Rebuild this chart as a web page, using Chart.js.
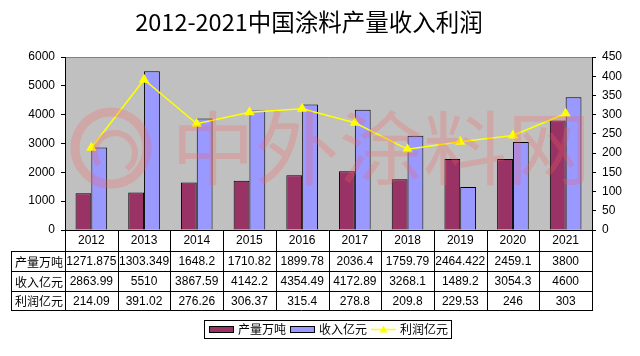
<!DOCTYPE html>
<html><head><meta charset="utf-8">
<script src="https://cdn.jsdelivr.net/npm/chart.js@4.4.1/dist/chart.umd.min.js"></script>
<style>html,body{margin:0;padding:0;background:#fff;} #wrap{width:640px;height:356px;position:relative;}</style>
</head><body><div id="wrap"><canvas id="c" width="640" height="356"></canvas></div>
<script>
// ---- data ----
const chartTitle = '2012-2021中国涂料产量收入利润';
const years = ['2012','2013','2014','2015','2016','2017','2018','2019','2020','2021'];
const seriesNames = ['产量万吨','收入亿元','利润亿元'];
const output = [1271.875,1303.349,1648.2,1710.82,1899.78,2036.4,1759.79,2464.422,2459.1,3800];
const revenue = [2863.99,5510,3867.59,4142.2,4354.49,4172.89,3268.1,1489.2,3054.3,4600];
const profit = [214.09,391.02,276.26,306.37,315.4,278.8,209.8,229.53,246,303];
const leftTicks = [0,1000,2000,3000,4000,5000,6000];
const rightTicks = [0,50,100,150,200,250,300,350,400,450];
const watermarkText = '中外涂料网';

const LATIN = '"Liberation Sans", Arial, sans-serif';
const CJK = '"Noto Sans CJK SC", "Noto Sans", sans-serif';
const colors = ['#993366','#9999ff','#ffff00'];

const decor = {
  id:'decor',
  beforeDraw(chart){
    const {ctx, chartArea:a} = chart;
    ctx.save();
    ctx.fillStyle='#c0c0c0';
    ctx.fillRect(a.left,a.top,a.right-a.left,a.bottom-a.top);
    ctx.strokeStyle='#808080'; ctx.lineWidth=1;
    ctx.beginPath(); ctx.moveTo(a.left, Math.round(a.top)+0.5); ctx.lineTo(a.right, Math.round(a.top)+0.5); ctx.stroke();
    // title
    ctx.fillStyle='#000'; ctx.font='23.5px '+CJK; ctx.textAlign='center'; ctx.textBaseline='middle';
    ctx.fillText(chartTitle, 309, 22);
    ctx.restore();
  },
  afterDatasetsDraw(chart){
    const {ctx, chartArea:a} = chart;
    ctx.save();
    ctx.beginPath(); ctx.rect(a.left,a.top,a.right-a.left,a.bottom-a.top); ctx.clip();
    ctx.strokeStyle='rgba(255,90,90,0.25)'; ctx.fillStyle='rgba(255,90,90,0.25)';
    ctx.lineWidth=9;
    ctx.beginPath(); ctx.arc(a.left+46,a.top+91,36,0,Math.PI*2); ctx.stroke();
    ctx.lineWidth=6;
    ctx.beginPath(); ctx.arc(a.left+50,a.top+96,20,Math.PI*0.8,Math.PI*2.3); ctx.stroke();
    ctx.font='80px '+CJK; ctx.textBaseline='middle'; ctx.textAlign='left';
    const w=ctx.measureText(watermarkText).width;
    const x0=a.left+106, target=420;
    ctx.translate(x0, a.top+91); ctx.scale(target/w, 1);
    ctx.fillText(watermarkText, 0, 0);
    ctx.restore();
  },
  afterDraw(chart){
    const {ctx, chartArea:a} = chart;
    const xs = chart.scales.x;
    const n = years.length;
    const cw = (a.right-a.left)/n;
    const tl = 11;
    const rh = [21,20,20,19];
    const ys=[Math.round(a.bottom)];
    rh.forEach(h=>ys.push(ys[ys.length-1]+h));
    const px = v=>Math.round(v)+0.5;
    ctx.save();
    ctx.strokeStyle='#000'; ctx.lineWidth=1;
    ctx.beginPath();
    ctx.moveTo(a.left, px(ys[0])); ctx.lineTo(a.right, px(ys[0]));
    for(let r=1;r<ys.length;r++){ ctx.moveTo(tl, px(ys[r])); ctx.lineTo(a.right, px(ys[r])); }
    for(let i=0;i<=n;i++){ const x=px(a.left+i*cw); ctx.moveTo(x, ys[0]); ctx.lineTo(x, ys[4]+1); }
    ctx.moveTo(px(tl), ys[1]); ctx.lineTo(px(tl), ys[4]+1);
    ctx.stroke();
    const rows=[output,revenue,profit];
    ctx.fillStyle='#000'; ctx.textBaseline='middle'; ctx.textAlign='center';
    rows.forEach((arr,r)=>{
      const cy=(ys[r+1]+ys[r+2])/2+1;
      ctx.font='12px '+CJK;
      ctx.fillText(seriesNames[r], (tl+a.left)/2+1, cy);
      ctx.font='12px '+LATIN;
      arr.forEach((v,i)=>ctx.fillText(String(v), xs.getPixelForValue(i), cy));
    });
    // legend
    ctx.font='12px '+CJK;
    const sw=25, g1=4, g2=4, pad=4;
    const widths=seriesNames.map(s=>ctx.measureText(s).width);
    let total=pad*2; widths.forEach((w,i)=>{ total+=sw+g1+w; if(i<widths.length-1) total+=g2; });
    const bx=Math.round((a.left+a.right)/2 - total/2)-1, by=320, bh=18;
    ctx.strokeStyle='#000';
    ctx.strokeRect(bx+0.5, by+0.5, total, bh);
    let cx=bx+pad+1; const my=by+bh/2+0.5;
    seriesNames.forEach((s,i)=>{
      if(i<2){
        ctx.fillStyle=colors[i]; ctx.fillRect(cx, my-3.5, sw, 7);
        ctx.strokeStyle='#000'; ctx.strokeRect(cx+0.5, Math.round(my-3.5)+0.5, sw-1, 6);
      } else {
        ctx.strokeStyle=colors[2]; ctx.lineWidth=1.5;
        ctx.beginPath(); ctx.moveTo(cx, my); ctx.lineTo(cx+sw, my); ctx.stroke();
        ctx.fillStyle=colors[2]; ctx.beginPath();
        const tx=cx+sw/2; ctx.moveTo(tx, my-4); ctx.lineTo(tx+4, my+3); ctx.lineTo(tx-4, my+3); ctx.closePath(); ctx.fill();
        ctx.lineWidth=1;
      }
      cx+=sw+g1;
      ctx.fillStyle='#000'; ctx.textAlign='left'; ctx.textBaseline='middle';
      ctx.fillText(s, cx, my);
      cx+=widths[i]+g2;
    });
    ctx.restore();
  }
};

new Chart(document.getElementById('c'), {
  type:'bar',
  data:{
    labels: years,
    datasets:[
      {label:seriesNames[0], data:output, backgroundColor:colors[0], borderColor:'#000', borderWidth:1, yAxisID:'y', order:2, categoryPercentage:0.6, barPercentage:1},
      {label:seriesNames[1], data:revenue, backgroundColor:colors[1], borderColor:'#000', borderWidth:1, yAxisID:'y', order:2, categoryPercentage:0.6, barPercentage:1},
      {type:'line', label:seriesNames[2], data:profit, borderColor:colors[2], backgroundColor:colors[2], borderWidth:1.5, pointStyle:'triangle', pointRadius:4.5, pointBackgroundColor:colors[2], pointBorderColor:colors[2], tension:0, yAxisID:'y1', order:1}
    ]
  },
  options:{
    responsive:false, animation:false, devicePixelRatio:1,
    layout:{padding:{left:11,right:0,top:57,bottom:46}},
    plugins:{
      legend:{display:false}, tooltip:{enabled:false}, title:{display:false}
    },
    scales:{
      x:{grid:{display:false, drawTicks:false}, border:{display:false}, ticks:{color:'#000', font:{family:LATIN,size:12}, padding:3, maxRotation:0}, afterFit(s){s.height=80;}},
      y:{position:'left', min:0, max:6000, afterBuildTicks(s){s.ticks=leftTicks.map(v=>({value:v}));},
        ticks:{color:'#000', font:{family:LATIN,size:12}, padding:6, callback:v=>String(v)},
        grid:{drawOnChartArea:false, tickLength:4, color:'#000'}, border:{display:true,color:'#000'}, afterFit(s){s.width=54;}},
      y1:{position:'right', min:0, max:450, afterBuildTicks(s){s.ticks=rightTicks.map(v=>({value:v}));},
        ticks:{color:'#000', font:{family:LATIN,size:12}, padding:6, callback:v=>String(v)},
        grid:{drawOnChartArea:false, tickLength:4, color:'#000'}, border:{display:true,color:'#000'}, afterFit(s){s.width=48;}}
    }
  },
  plugins:[decor]
});
</script></body></html>
